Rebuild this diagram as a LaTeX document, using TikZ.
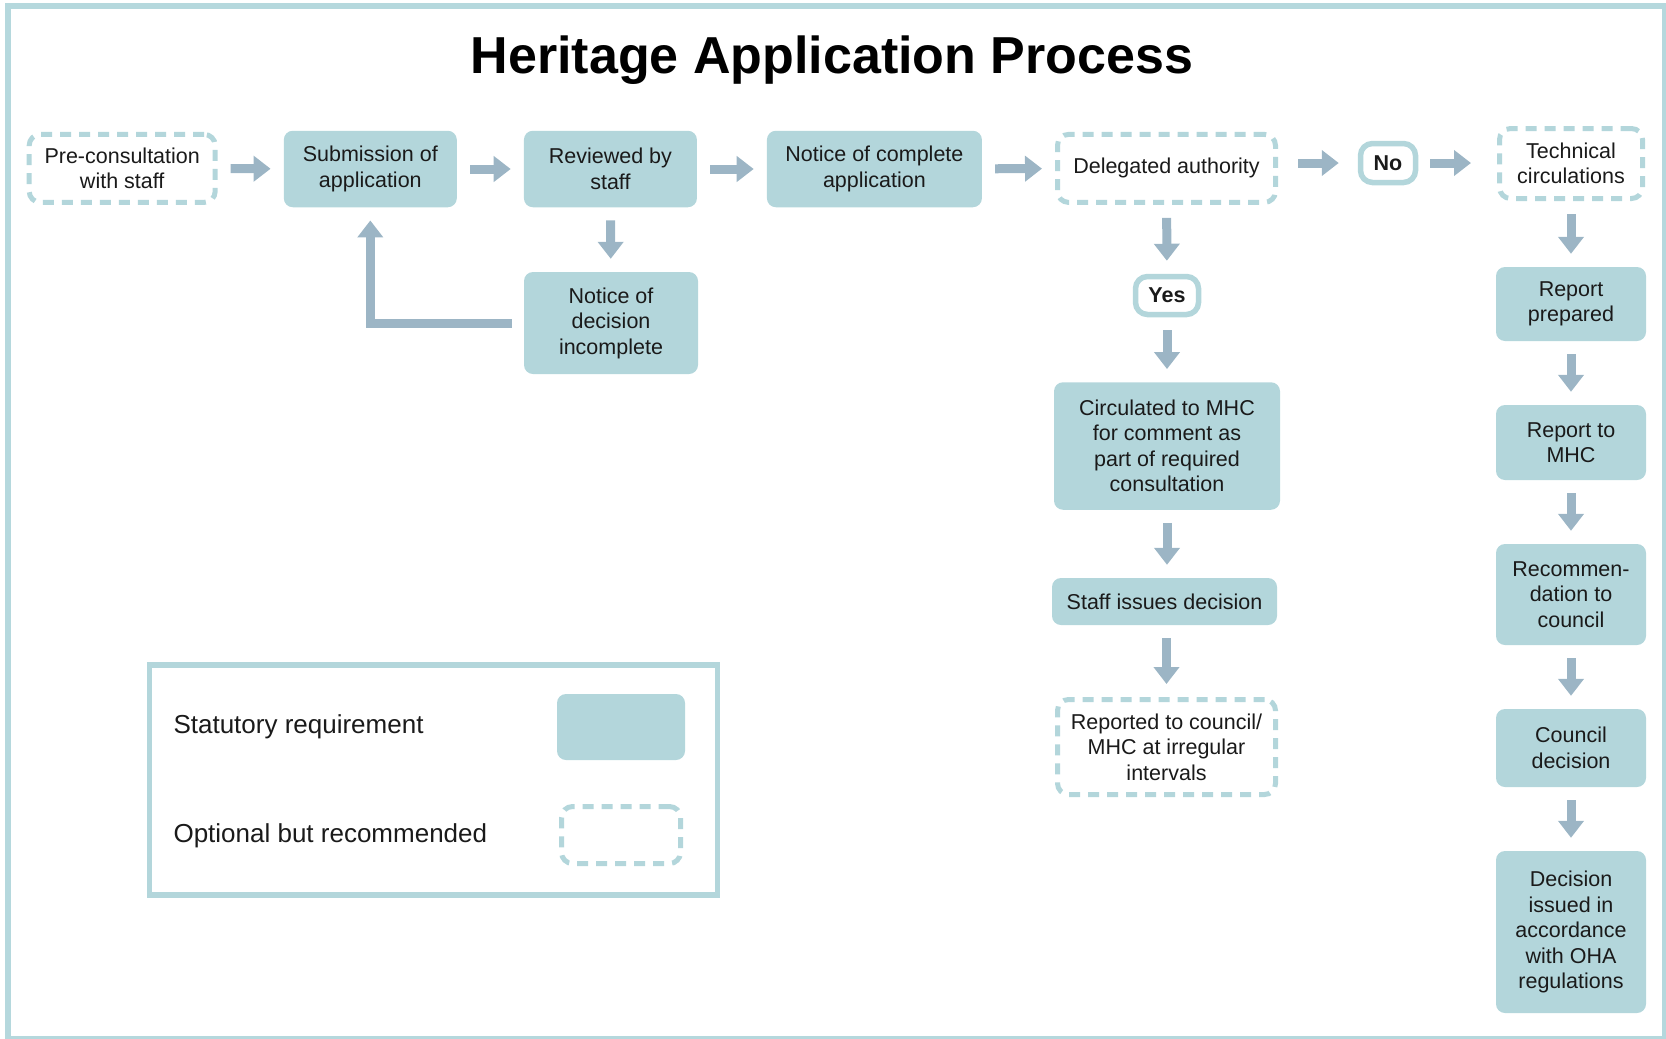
\documentclass[tikz,border=0pt]{standalone}
\usepackage{fontspec}
\setmainfont{Liberation Sans}
\usetikzlibrary{arrows.meta}
\definecolor{fillc}{HTML}{B3D6DB}
\definecolor{arrc}{HTML}{9CB5C5}
\definecolor{framec}{HTML}{B5D8DD}
\definecolor{txtc}{HTML}{1A1A1A}
\begin{document}
\begin{tikzpicture}[x=1pt,y=-1pt,
  every node/.style={text=txtc},
  bodyfont/.style={font=\fontsize{21.5}{25.5}\selectfont},
  box/.style={bodyfont, rounded corners=9, fill=fillc, inner sep=0pt, align=center},
  opt/.style={bodyfont, rounded corners=11, draw=fillc, line width=5, dash pattern=on 11pt off 8pt, fill=white, inner sep=0pt, align=center},
  yn/.style={font=\fontsize{21.5}{25.5}\selectfont\bfseries, rounded corners=12, draw=fillc, line width=5.5, fill=white, inner sep=0pt, align=center},
  arr/.style={draw=arrc, line width=9, line join=miter, -{Triangle[width=25pt,length=17pt]}, shorten <=13pt, shorten >=13pt},
  sz/.style 2 args={minimum width=#1, minimum height=#2}
]
\useasboundingbox (0,0) rectangle (1666,1039);
\draw[framec, line width=6] (7.5,5.5) rectangle (1664.5,1039);

\node[font=\fontsize{52}{60}\selectfont\bfseries, text=black] (title) at (832,60) {Heritage Application Process};

% top row
\node[opt, sz={186pt}{68pt}] (pre) at (122.2,168.4) {Pre-consultation\\with staff};
\node[box, sz={173pt}{76.5pt}] (sub) at (370.3,169) {Submission of\\application};
\node[box, sz={173pt}{76.5pt}] (rev) at (610.4,169) {Reviewed by\\staff};
\node[box, sz={215pt}{76.5pt}] (nca) at (874.4,169) {Notice of complete\\application};
\node[opt, sz={218pt}{68pt}] (del) at (1166.5,168.4) {Delegated authority};
\node[yn, sz={55pt}{39pt}] (no) at (1388,163) {No};
\node[opt, sz={143pt}{70pt}] (tech) at (1571,163.5) {Technical\\circulations};

\node[box, sz={174pt}{102pt}] (ndi) at (611,323) {Notice of\\decision\\incomplete};

% middle column
\node[yn, sz={63pt}{38pt}] (yes) at (1167,295.5) {Yes};
\node[box, sz={226pt}{127.5pt}] (circ) at (1167,446) {Circulated to MHC\\for comment as\\part of required\\consultation};
\node[box, sz={225pt}{47pt}] (staff) at (1164.5,601.5) {Staff issues decision};
\node[opt, sz={218pt}{95pt}] (rep) at (1166.5,747) {Reported to council/\\MHC at irregular\\intervals};

% right column
\node[box, sz={150pt}{74pt}] (rp) at (1571,304) {Report\\prepared};
\node[box, sz={150pt}{75pt}] (rmhc) at (1571,442.5) {Report to\\MHC};
\node[box, sz={150pt}{101pt}] (rec) at (1571,594.5) {Recommen-\\dation to\\council};
\node[box, sz={150pt}{78pt}] (cd) at (1571,748) {Council\\decision};
\node[box, sz={150pt}{162pt}] (di) at (1571,932) {Decision\\issued in\\accordance\\with OHA\\regulations};

% arrows
\draw[arr] (pre) -- (sub);
\draw[arr] (sub) -- (rev);
\draw[arr] (rev) -- (nca);
\draw[arr] (nca) -- (del);
\draw[arr, shorten <=20pt, shorten >=19pt] (del.east |- no.west) -- (no.west);
\draw[arr, shorten <=12pt, shorten >=26pt] (no) -- (tech.west |- no.east);
\draw[arr] (rev) -- (ndi);
\draw[arr, shorten <=12pt] (ndi.west) -| (sub.south);
\draw[arr] (del) -- (yes);
\draw[arr] (yes) -- (circ);
\draw[arr] (circ.south) -- (circ.south |- staff.north);
\draw[arr] (staff.south -| rep.north) -- (rep.north);
\draw[arr] (tech) -- (rp);
\draw[arr] (rp) -- (rmhc);
\draw[arr] (rmhc) -- (rec);
\draw[arr] (rec) -- (cd);
\draw[arr] (cd) -- (di);

% legend
\node[draw=fillc, line width=5.5, sz={568pt}{230pt}] (legend) at (433.5,780) {};
\node[anchor=west, font=\fontsize{26}{30}\selectfont] (lt1) at (170,727) {Statutory requirement};
\node[anchor=west, font=\fontsize{26}{30}\selectfont] (lt2) at (170,836) {Optional but recommended};
\node[box, sz={128pt}{66pt}] (ls1) at (621,727) {};
\node[opt, sz={119pt}{57pt}] (ls2) at (621,835) {};
\end{tikzpicture}
\end{document}
